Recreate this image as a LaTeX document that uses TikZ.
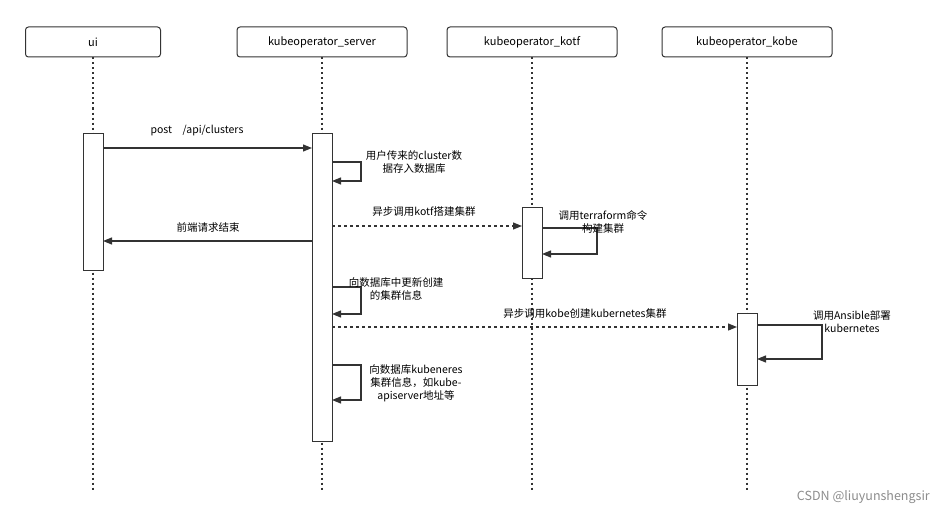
\documentclass[tikz,border=0pt]{standalone}
\usepackage{fontspec}
\setmainfont{Noto Sans CJK SC}
\usetikzlibrary{arrows.meta}
\begin{document}
\begin{tikzpicture}[x=1pt,y=-1pt,
  hdr/.style={draw=black!80,rounded corners=3pt,minimum width=135pt,minimum height=30pt,font=\fontsize{11}{13}\selectfont,line width=1pt},
  act/.style={draw=black!80,fill=white,line width=1pt,minimum width=20pt,anchor=north},
  life/.style={black!80,line width=1.2pt,dash pattern=on 2pt off 3pt},
  msg/.style={black!80,line width=1.2pt,-{Triangle[length=9pt,width=7pt]}},
  amsg/.style={msg,dash pattern=on 3pt off 3pt},
  lbl/.style={font=\fontsize{10.5}{13}\selectfont,align=center,inner sep=0pt}]
\useasboundingbox (0,0) rectangle (943,519);
\node[hdr] (h1) at (93,42) {ui};
\node[hdr,minimum width=170pt] (h2) at (322,42) {kubeoperator\_server};
\node[hdr,minimum width=170pt] (h3) at (532,42) {kubeoperator\_kotf};
\node[hdr,minimum width=170pt] (h4) at (747,42) {kubeoperator\_kobe};
\coordinate (e1) at (93,492);\coordinate (e2) at (322,492);\coordinate (e3) at (532,492);\coordinate (e4) at (747,492);
\foreach \i in {1,2,3,4}{\draw[life] (h\i.south) -- (e\i);}
\node[act,minimum height=137pt] (a1) at (93,133) {};
\node[act,minimum height=308pt] (a2) at (322,133) {};
\node[act,minimum height=71pt] (a3) at (532,207) {};
\node[act,minimum height=72pt] (a4) at (747,313) {};
% messages
\coordinate (p1) at (103,148);\coordinate (p2) at (312,148);
\draw[msg] (p1) -- (p2);
\node[lbl] at (197,131) {post\quad /api/clusters};
\coordinate (s1) at (332,162);\coordinate (s2) at (332,181);
\draw[msg] (s1) -| (361,172) |- (s2);
\node[lbl] at (414,162) {用户传来的cluster数\\据存入数据库};
\coordinate (k1) at (332,226);\coordinate (k2) at (522,226);
\draw[amsg] (k1) -- (k2);
\node[lbl] at (424,212) {异步调用kotf搭建集群};
\coordinate (t1) at (542,228);\coordinate (t2) at (542,254);
\draw[msg] (t1) -| (597,240) |- (t2);
\node[lbl] at (603,222) {调用terraform命令\\构建集群};
\coordinate (r1) at (312,241);\coordinate (r2) at (103,241);
\draw[msg] (r1) -- (r2);
\node[lbl] at (208,227) {前端请求结束};
\coordinate (u1) at (332,287);\coordinate (u2) at (332,314);
\draw[msg] (u1) -| (361,300) |- (u2);
\node[lbl] at (396,289) {向数据库中更新创建\\的集群信息};
\coordinate (b1) at (332,327);\coordinate (b2) at (737,327);
\draw[amsg] (b1) -- (b2);
\node[lbl] at (585,314) {异步调用kobe创建kubernetes集群};
\coordinate (c1) at (757,325);\coordinate (c2) at (757,359);
\draw[msg] (c1) -| (822,340) |- (c2);
\node[lbl] at (852,322) {调用Ansible部署\\kubernetes};
\coordinate (d1) at (332,365);\coordinate (d2) at (332,400);
\draw[msg] (d1) -| (361,380) |- (d2);
\node[lbl] at (416,383) {向数据库kubeneres\\集群信息，如kube-\\apiserver地址等};
\node[font=\fontsize{12.5}{14}\selectfont,text=black!45,anchor=east,inner sep=0pt] at (930,497) {CSDN @liuyunshengsir};
\end{tikzpicture}
\end{document}
